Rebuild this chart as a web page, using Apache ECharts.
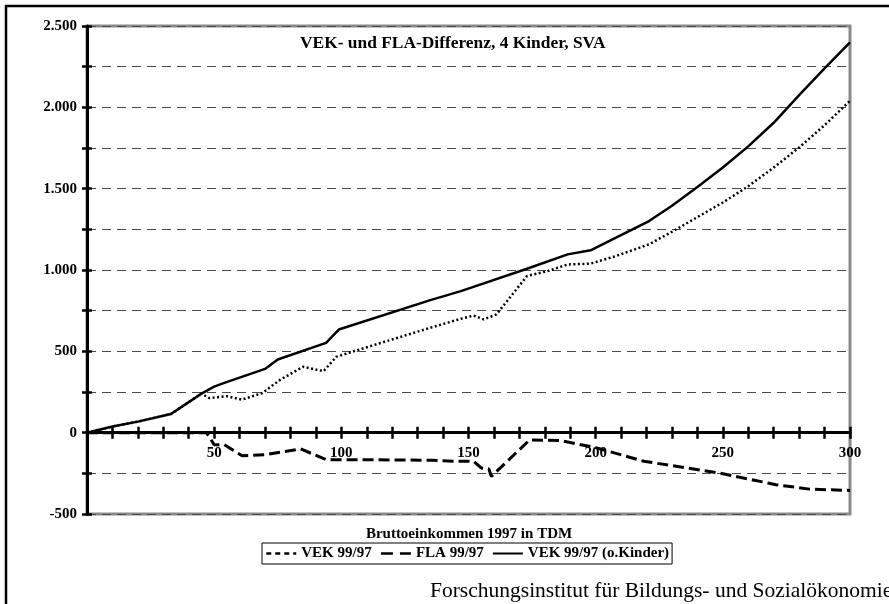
<!DOCTYPE html>
<html>
<head>
<meta charset="utf-8">
<script src="https://cdn.jsdelivr.net/npm/echarts@6/dist/echarts.min.js"></script>
<style>
  html, body { margin: 0; padding: 0; background: #fff; }
  #chart { width: 889px; height: 604px; }
</style>
</head>
<body>
<div id="chart"></div>
<script>
// Bruttoeinkommen 1997 (TDM) and the resulting differences per series
const vekIncome = [0, 10, 20, 33, 45, 48, 55, 61, 69, 76, 85, 93, 98, 105, 135, 147, 152, 156, 161, 173, 181, 189, 198, 208, 221, 230, 240, 250, 260, 270, 280, 290, 300];
const vekValues = [0, 38, 68, 115, 240, 213, 224, 203, 244, 326, 405, 378, 466, 501, 645, 700, 720, 696, 727, 963, 993, 1034, 1039, 1086, 1158, 1235, 1325, 1415, 1515, 1630, 1753, 1890, 2040];

const flaIncome = [0, 47, 50, 54, 61, 70, 84, 94, 107, 136, 145, 152, 155, 158, 159, 174, 186, 200, 219, 249, 271, 284, 300];
const flaValues = [0, 0, -74, -74, -142, -135, -100, -166, -166, -170, -176, -176, -217, -223, -269, -45, -48, -92, -176, -249, -320, -347, -355];

const okIncome = [0, 10, 20, 33, 45, 50, 54, 70, 75, 94, 99, 135, 147, 173, 189, 198, 208, 221, 230, 240, 250, 260, 270, 280, 290, 300];
const okValues = [0, 38, 68, 115, 240, 283, 306, 392, 450, 552, 634, 815, 870, 1008, 1096, 1121, 1199, 1301, 1395, 1510, 1630, 1760, 1905, 2075, 2240, 2400];

const seriesNames = ['VEK 99/97', 'FLA 99/97', 'VEK 99/97 (o.Kinder)'];
const xLabelTicks = [50, 100, 150, 200, 250, 300];
const yLabelTicks = [-500, 0, 500, 1000, 1500, 2000, 2500];
const yMin = -500, yMax = 2500;

const titleText = 'VEK- und FLA-Differenz, 4 Kinder, SVA';
const xAxisTitle = 'Bruttoeinkommen 1997 in TDM';
const footerText = 'Forschungsinstitut für Bildungs- und Sozialökonomie';

const serif = "'Liberation Serif', 'Times New Roman', serif";

function pairs(xs, ys) {
  return xs.map((x, i) => [x, ys[i]]);
}
function germanNumber(v) {
  const s = Math.abs(v).toString().replace(/\B(?=(\d{3})+(?!\d))/g, '.');
  return (v < 0 ? '-' : '') + s;
}

const gridTop = 26, gridBottom = 90, chartHeight = 604;
// lift the income axis from the plot floor up to the zero line
const plotHeight = chartHeight - gridTop - gridBottom;
const zeroLift = -plotHeight * (0 - yMin) / (yMax - yMin);

const chart = echarts.init(document.getElementById('chart'), null, { renderer: 'canvas' });

const xBase = {
  type: 'value', min: 0, max: 300, interval: 10,
  position: 'bottom', offset: zeroLift,
  splitLine: { show: false }
};
const yBase = {
  type: 'value', min: yMin, max: yMax, interval: 250
};

chart.setOption({
  backgroundColor: '#fff',
  animation: false,
  title: {
    text: titleText,
    left: 300, top: 35,
    padding: 0,
    textStyle: { fontFamily: serif, fontWeight: 'bold', fontSize: 17.4, color: '#000' }
  },
  legend: {
    data: [
      { name: seriesNames[0], lineStyle: { type: [5, 4], width: 2.5 } },
      { name: seriesNames[1], lineStyle: { type: [12, 7], width: 2.5 } },
      { name: seriesNames[2], lineStyle: { type: 'solid', width: 2 } }
    ],
    left: 262, top: 543,
    orient: 'horizontal',
    borderColor: '#000', borderWidth: 1,
    padding: [3, 3, 3, 3],
    itemGap: 8, itemWidth: 30, itemHeight: 14,
    itemStyle: { color: 'rgba(0,0,0,0)', borderColor: 'rgba(0,0,0,0)', borderWidth: 0 },
    textStyle: { fontFamily: serif, fontWeight: 'bold', fontSize: 15, color: '#000' }
  },
  grid: {
    left: 87, right: 39, top: gridTop, bottom: gridBottom,
    outerBoundsMode: 'none', containLabel: false,
    show: true, borderColor: '#8a8a8a', borderWidth: 3, backgroundColor: 'transparent'
  },
  xAxis: [
    Object.assign({}, xBase, {
      axisLine: { onZero: false, lineStyle: { color: '#000', width: 3 } },
      axisTick: { show: true, length: 6, lineStyle: { color: '#000', width: 2.5 } },
      axisLabel: {
        margin: 13,
        fontFamily: serif, fontWeight: 'bold', fontSize: 15, color: '#000',
        formatter: v => xLabelTicks.includes(v) ? String(v) : ''
      }
    }),
    Object.assign({}, xBase, {
      axisLine: { show: false, onZero: false },
      axisTick: { show: true, inside: true, length: 6, lineStyle: { color: '#000', width: 2.5 } },
      axisLabel: { show: false }
    })
  ],
  yAxis: [
    Object.assign({}, yBase, {
      axisLine: { show: true, lineStyle: { color: '#000', width: 3 } },
      axisTick: { show: true, length: 5, lineStyle: { color: '#000', width: 2.5 } },
      axisLabel: {
        margin: 10,
        fontFamily: serif, fontWeight: 'bold', fontSize: 15, color: '#000',
        formatter: v => yLabelTicks.includes(v) ? germanNumber(v) : ''
      },
      splitLine: { show: true, lineStyle: { color: '#4a4a4a', width: 1, type: [9, 6] } }
    }),
    Object.assign({}, yBase, {
      position: 'left',
      axisLine: { show: false },
      axisTick: { show: true, inside: true, length: 5, lineStyle: { color: '#000', width: 2.5 } },
      axisLabel: { show: false },
      splitLine: { show: false }
    })
  ],
  graphic: [
    {
      type: 'rect', silent: true, z: 100,
      shape: { x: 6, y: 6, width: 1000, height: 1000 },
      style: { fill: null, stroke: '#000', lineWidth: 2.5 }
    },
    {
      type: 'text', silent: true, x: 469, y: 534,
      style: {
        text: xAxisTitle, align: 'center', verticalAlign: 'middle',
        font: "bold 15px 'Liberation Serif', 'Times New Roman', serif", fill: '#000'
      }
    },
    {
      type: 'text', silent: true, x: 430, y: 591,
      style: {
        text: footerText, align: 'left', verticalAlign: 'middle',
        font: "21.5px 'Liberation Serif', 'Times New Roman', serif", fill: '#000'
      }
    }
  ],
  series: [
    {
      name: seriesNames[0], type: 'line', symbol: 'none', z: 3,
      data: pairs(vekIncome, vekValues),
      lineStyle: { color: '#000', width: 2.5, type: [2, 2.5] },
      itemStyle: { color: '#000' }
    },
    {
      name: seriesNames[1], type: 'line', symbol: 'none', z: 3,
      data: pairs(flaIncome, flaValues),
      lineStyle: { color: '#000', width: 3, type: [11, 5] },
      itemStyle: { color: '#000' }
    },
    {
      name: seriesNames[2], type: 'line', symbol: 'none', z: 3,
      data: pairs(okIncome, okValues),
      lineStyle: { color: '#000', width: 2.5, type: 'solid' },
      itemStyle: { color: '#000' }
    }
  ]
});
</script>
</body>
</html>
